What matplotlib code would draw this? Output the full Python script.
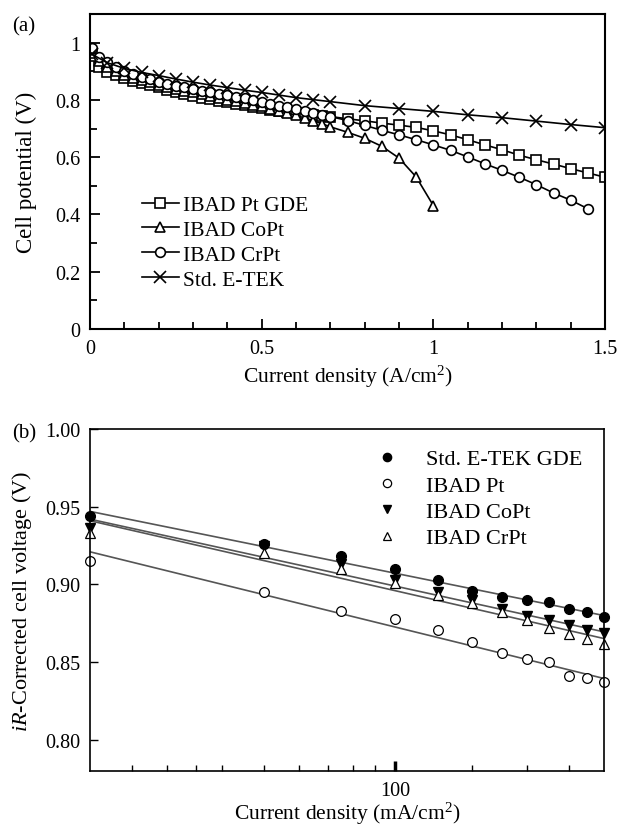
import matplotlib
matplotlib.use("Agg")
import matplotlib.pyplot as plt
from matplotlib.ticker import FixedLocator, NullFormatter, FormatStrFormatter

plt.rcParams['font.family'] = ['Liberation Serif', 'DejaVu Serif']
plt.rcParams['mathtext.fontset'] = 'custom'
plt.rcParams['mathtext.rm'] = 'Liberation Serif'
plt.rcParams['mathtext.it'] = 'Liberation Serif:italic'

# ---- panel (a): polarization curves ----
x_dense = [0.005, 0.025, 0.05, 0.075, 0.1, 0.125, 0.15, 0.175, 0.2, 0.225, 0.25, 0.275,
           0.3, 0.325, 0.35, 0.375, 0.4, 0.425, 0.45, 0.475, 0.5, 0.525, 0.55, 0.575,
           0.6, 0.625, 0.65, 0.675, 0.7]
x_tail = [0.75, 0.8, 0.85, 0.9, 0.95, 1.0, 1.05, 1.1, 1.15, 1.2, 1.25, 1.3, 1.35, 1.4, 1.45, 1.5]

pt_x = x_dense + x_tail
pt_v = [0.955, 0.915, 0.898, 0.886, 0.876, 0.867, 0.859, 0.852, 0.844, 0.836, 0.829, 0.822,
        0.815, 0.808, 0.802, 0.797, 0.791, 0.786, 0.781, 0.775, 0.771, 0.766, 0.762, 0.759,
        0.756, 0.752, 0.749, 0.745, 0.742,
        0.734, 0.727, 0.719, 0.712, 0.704, 0.692, 0.678, 0.661, 0.643, 0.626, 0.607, 0.591,
        0.576, 0.560, 0.545, 0.530]

copt_x = x_dense + x_tail[:6]
copt_v = [0.965, 0.935, 0.915, 0.900, 0.888, 0.878, 0.869, 0.861, 0.853, 0.846, 0.839, 0.832,
          0.826, 0.819, 0.813, 0.807, 0.801, 0.795, 0.789, 0.783, 0.777, 0.770, 0.762, 0.754,
          0.746, 0.737, 0.728, 0.717, 0.706,
          0.687, 0.666, 0.638, 0.597, 0.531, 0.431]

crpt_x = x_dense + x_tail[:15]
crpt_v = [0.980, 0.950, 0.932, 0.915, 0.902, 0.891, 0.881, 0.872, 0.864, 0.857, 0.850, 0.844,
          0.838, 0.832, 0.827, 0.822, 0.817, 0.811, 0.806, 0.800, 0.794, 0.787, 0.780, 0.774,
          0.768, 0.762, 0.756, 0.749, 0.742,
          0.728, 0.711, 0.694, 0.678, 0.661, 0.643, 0.624, 0.601, 0.577, 0.554, 0.530, 0.504,
          0.475, 0.450, 0.420]

etek_x = [0.005, 0.05, 0.1, 0.15, 0.2, 0.25, 0.3, 0.35, 0.4, 0.45, 0.5, 0.55, 0.6, 0.65, 0.7,
          0.8, 0.9, 1.0, 1.1, 1.2, 1.3, 1.4, 1.5]
etek_v = [0.960, 0.930, 0.910, 0.896, 0.885, 0.873, 0.862, 0.852, 0.843, 0.834, 0.826, 0.817,
          0.808, 0.801, 0.794, 0.780, 0.770, 0.760, 0.748, 0.738, 0.726, 0.714, 0.703]

# ---- panel (b): iR-corrected Tafel plot ----
cd = [20, 50, 75, 100, 125, 150, 175, 200, 225, 250, 275, 300]
etek_ir = [0.944, 0.926, 0.918, 0.910, 0.903, 0.896, 0.892, 0.890, 0.889, 0.884, 0.882, 0.879]
pt_ir = [0.915, 0.895, 0.883, 0.878, 0.871, 0.863, 0.856, 0.852, 0.850, 0.841, 0.840, 0.837]
copt_ir = [0.936, 0.925, 0.913, 0.903, 0.895, 0.890, 0.884, 0.880, 0.877, 0.874, 0.871, 0.869]
crpt_ir = [0.933, 0.920, 0.910, 0.901, 0.893, 0.888, 0.882, 0.877, 0.872, 0.868, 0.865, 0.862]

# fitted Tafel lines, read at both ends of the axis
fit_cd = [20, 300]
etek_fit = [0.947, 0.880]
pt_fit = [0.921, 0.8395]
copt_fit = [0.942, 0.8695]
crpt_fit = [0.941, 0.8652]

fig = plt.figure(figsize=(6.18, 8.28), dpi=100)

# (a)
ax = fig.add_axes([90 / 618, 1 - 330 / 828, 515 / 618, 315 / 828])
style = dict(color='k', lw=1.2, mfc='white', mec='k', mew=1.2)
ax.plot(pt_x, pt_v, marker='s', ms=7.5, label='IBAD Pt GDE', **style)
ax.plot(copt_x, copt_v, marker='^', ms=7.5, label='IBAD CoPt', **style)
ax.plot(crpt_x, crpt_v, marker='o', ms=7, label='IBAD CrPt', **style)
ax.plot(etek_x, etek_v, marker='x', ms=8, label='Std. E-TEK', color='k', lw=1.2, mew=1.2)

ax.set_xlim(0, 1.5)
ax.set_ylim(0, 1.1)
ax.set_xticks([0, 0.5, 1, 1.5])
ax.set_xticklabels(['0', '0.5', '1', '1.5'])
ax.set_yticks([0, 0.2, 0.4, 0.6, 0.8, 1.0])
ax.set_yticklabels(['0', '0.2', '0.4', '0.6', '0.8', '1'])
ax.xaxis.set_minor_locator(FixedLocator([0.1, 0.2, 0.3, 0.4, 0.6, 0.7, 0.8, 0.9, 1.1, 1.2, 1.3, 1.4]))
ax.yaxis.set_minor_locator(FixedLocator([0.1, 0.3, 0.5, 0.7, 0.9]))
ax.tick_params(which='both', direction='in', labelsize=14.5, width=1.3)
ax.tick_params(which='major', length=7, pad=7)
ax.tick_params(which='minor', length=5)
for s in ax.spines.values():
    s.set_linewidth(1.5)
ax.set_xlabel('Current density (A/cm$^2$)', fontsize=15.5, labelpad=4)
ax.set_ylabel('Cell potential (V)', fontsize=16.5, labelpad=13)
ax.legend(loc='upper left', bbox_to_anchor=(0.1, 0.425), frameon=False, fontsize=15.5,
          handlelength=1.75, handletextpad=0.2, labelspacing=0.22, borderaxespad=0,
          borderpad=0)
fig.text(0.02, 0.967, '(a)', fontsize=15, va='center')

# (b)
bx = fig.add_axes([90 / 618, 1 - 772 / 828, 514 / 618, 342 / 828])
line_c = '#555555'
bx.plot(fit_cd, etek_fit, color=line_c, lw=1.2)
bx.plot(fit_cd, pt_fit, color=line_c, lw=1.2)
bx.plot(fit_cd, copt_fit, color=line_c, lw=1.2)
bx.plot(fit_cd, crpt_fit, color=line_c, lw=1.2)
bx.plot(cd, etek_ir, 'o', ms=7, mfc='k', mec='k', label='Std. E-TEK GDE', clip_on=False)
bx.plot(cd, pt_ir, 'o', ms=7, mfc='white', mec='k', mew=0.9, label='IBAD Pt', clip_on=False)
bx.plot(cd, copt_ir, 'v', ms=7, mfc='k', mec='k', label='IBAD CoPt', clip_on=False)
bx.plot(cd, crpt_ir, '^', ms=7, mfc='white', mec='k', mew=0.9, label='IBAD CrPt', clip_on=False)

bx.set_xscale('log')
bx.set_xlim(20, 300)
bx.set_ylim(0.78, 1.0)
bx.xaxis.set_major_locator(FixedLocator([100]))
bx.xaxis.set_major_formatter(FormatStrFormatter('%d'))
bx.xaxis.set_minor_locator(FixedLocator([25, 30, 35, 40, 50, 60, 70, 80, 90, 150, 200, 250]))
bx.xaxis.set_minor_formatter(NullFormatter())
bx.set_yticks([0.80, 0.85, 0.90, 0.95, 1.00])
bx.yaxis.set_major_formatter(FormatStrFormatter('%.2f'))
bx.tick_params(which='both', direction='in', labelsize=14.5)
bx.tick_params(axis='x', which='major', length=7, width=2.5, pad=7)
bx.tick_params(axis='x', which='minor', length=4, width=1)
bx.tick_params(axis='y', which='major', length=6, width=1, pad=7)
for s in bx.spines.values():
    s.set_linewidth(1.2)
bx.set_xlabel('Current density (mA/cm$^2$)', fontsize=15.5, labelpad=0)
bx.set_ylabel('$\\it{iR}$-Corrected cell voltage (V)', fontsize=16, labelpad=8)
bx.legend(loc='upper left', bbox_to_anchor=(0.545, 0.942), frameon=False, fontsize=16,
          handlelength=1.5, handletextpad=1.0, labelspacing=0.26, markerscale=0.85,
          borderaxespad=0, borderpad=0)
fig.text(0.02, 0.476, '(b)', fontsize=15, va='center')

fig.savefig('out.png', dpi=100)
